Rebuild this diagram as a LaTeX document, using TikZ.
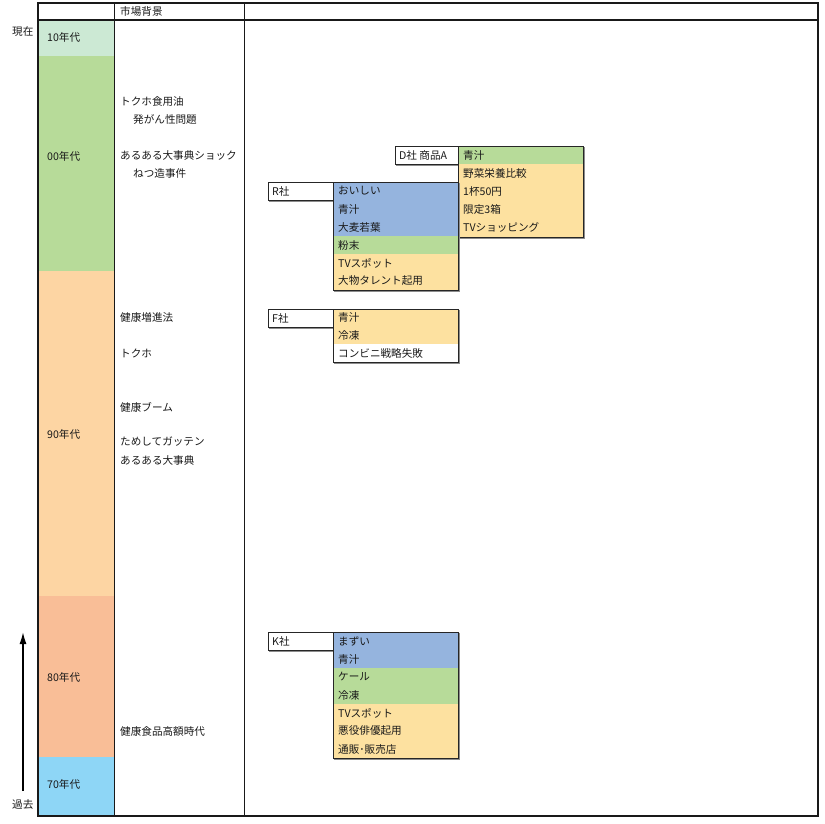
\documentclass[tikz,border=0pt]{standalone}
\usepackage{fontspec}
\setmainfont{Noto Sans CJK JP}
\usetikzlibrary{arrows.meta}
\definecolor{cTen}{RGB}{204,233,212}
\definecolor{cZero}{RGB}{183,219,153}
\definecolor{cNinety}{RGB}{253,213,163}
\definecolor{cEighty}{RGB}{249,190,151}
\definecolor{cSeventy}{RGB}{142,214,246}
\definecolor{cBlue}{RGB}{149,180,222}
\definecolor{cGreen}{RGB}{183,219,153}
\definecolor{cOrange}{RGB}{253,225,160}
\begin{document}
\begin{tikzpicture}[x=1pt,y=-1pt,
  every node/.style={font=\fontsize{10.6}{12}\selectfont, inner sep=0pt},
  txt/.style={anchor=west, text=black!90},
  lbl/.style={anchor=west, text=black!90},
  frameline/.style={line width=1.8pt, black!90},
  gridline/.style={line width=0.9pt, black!90},
  boxline/.style={line width=0.8pt, black!85},
  shadowline/.style={line width=1pt, black!45}]
\useasboundingbox (0,0) rectangle (824,824);
% era bands
\fill[cTen] (38,20) rectangle (114,56);
\fill[cZero] (38,56) rectangle (114,271);
\fill[cNinety] (38,271) rectangle (114,596);
\fill[cEighty] (38,596) rectangle (114,757);
\fill[cSeventy] (38,757) rectangle (114,816);
% grid
\draw[gridline] (114,3) -- (114,816);
\draw[gridline] (244,3) -- (244,816);
\draw[line width=1.4pt, black!90] (38,20) -- (818,20);
\draw[frameline] (38,3) rectangle (818,816);
% header
\node[txt] (hdr) at (120,11.5) {市場背景};
% era labels
\node[lbl] (e10) at (47,37) {10年代};
\node[lbl] (e00) at (47,156) {00年代};
\node[lbl] (e90) at (47,434) {90年代};
\node[lbl] (e80) at (47,677) {80年代};
\node[lbl] (e70) at (47,784) {70年代};
% side labels and arrow
\node[lbl] (now) at (12,32) {現在};
\node[lbl] (past) at (12,804) {過去};
\coordinate (arrS) at (23,791);
\coordinate (arrE) at (23,632);
\draw[line width=1.6pt, -{Latex[length=12pt,width=7pt]}] (arrS) -- (arrE);
% market background
\node[txt] (m1) at (120,101) {トクホ食用油};
\node[txt] (m2) at (133,119) {発がん性問題};
\node[txt] (m3) at (120,155) {あるある大事典ショック};
\node[txt] (m4) at (133,173) {ねつ造事件};
\node[txt] (m5) at (120,317) {健康増進法};
\node[txt] (m6) at (120,353) {トクホ};
\node[txt] (m7) at (120,407) {健康ブーム};
\node[txt] (m8) at (120,442) {ためしてガッテン};
\node[txt] (m9) at (120,460) {あるある大事典};
\node[txt] (m10) at (120,731) {健康食品高額時代};
% ---------- D company ----------
\draw[shadowline] (396,165) -- (459,165);
\draw[boxline, fill=white] (395,146) rectangle (458,164);
\node[txt] (dl) at (399,155.5) {D社 商品A};
\draw[shadowline] (584,147) -- (584,238) -- (459,238);
\fill[cGreen] (458,146) rectangle (583,164);
\fill[cOrange] (458,164) rectangle (583,237);
\draw[boxline] (458,146) rectangle (583,237);
\node[txt] (d1) at (463,155.5) {青汁};
\node[txt] (d2) at (463,173) {野菜栄養比較};
\node[txt] (d3) at (463,191) {1杯50円};
\node[txt] (d4) at (463,209) {限定3箱};
\node[txt] (d5) at (463,227) {TVショッピング};
% ---------- R company ----------
\draw[shadowline] (269,201) -- (333,201);
\draw[boxline, fill=white] (268,182) rectangle (333,200);
\node[txt] (rl) at (272,191) {R社};
\draw[shadowline] (459,183) -- (459,291) -- (334,291);
\fill[cBlue] (333,182) rectangle (458,236);
\fill[cGreen] (333,236) rectangle (458,254);
\fill[cOrange] (333,254) rectangle (458,290);
\draw[boxline] (333,182) rectangle (458,290);
\node[txt] (r1) at (338,191) {おいしい};
\node[txt] (r2) at (338,209) {青汁};
\node[txt] (r3) at (338,227) {大麦若葉};
\node[txt] (r4) at (338,245) {粉末};
\node[txt] (r5) at (338,263) {TVスポット};
\node[txt] (r6) at (338,281) {大物タレント起用};
% ---------- F company ----------
\draw[shadowline] (269,328) -- (333,328);
\draw[boxline, fill=white] (268,309) rectangle (333,327);
\node[txt] (fl) at (272,318) {F社};
\draw[shadowline] (459,310) -- (459,363) -- (334,363);
\fill[white] (333,309) rectangle (458,362);
\fill[cOrange] (333,309) rectangle (458,344);
\draw[boxline] (333,309) rectangle (458,362);
\node[txt] (f1) at (338,317) {青汁};
\node[txt] (f2) at (338,335) {冷凍};
\node[txt] (f3) at (338,353) {コンビニ戦略失敗};
% ---------- K company ----------
\draw[shadowline] (269,651) -- (333,651);
\draw[boxline, fill=white] (268,632) rectangle (333,650);
\node[txt] (kl) at (272,641) {K社};
\draw[shadowline] (459,633) -- (459,759) -- (334,759);
\fill[cBlue] (333,632) rectangle (458,668);
\fill[cGreen] (333,668) rectangle (458,704);
\fill[cOrange] (333,704) rectangle (458,758);
\draw[boxline] (333,632) rectangle (458,758);
\node[txt] (k1) at (338,641) {まずい};
\node[txt] (k2) at (338,659) {青汁};
\node[txt] (k3) at (338,677) {ケール};
\node[txt] (k4) at (338,695) {冷凍};
\node[txt] (k5) at (338,713) {TVスポット};
\node[txt] (k6) at (338,731) {悪役俳優起用};
\node[txt] (k7) at (338,749) {通販･販売店};
\end{tikzpicture}
\end{document}
